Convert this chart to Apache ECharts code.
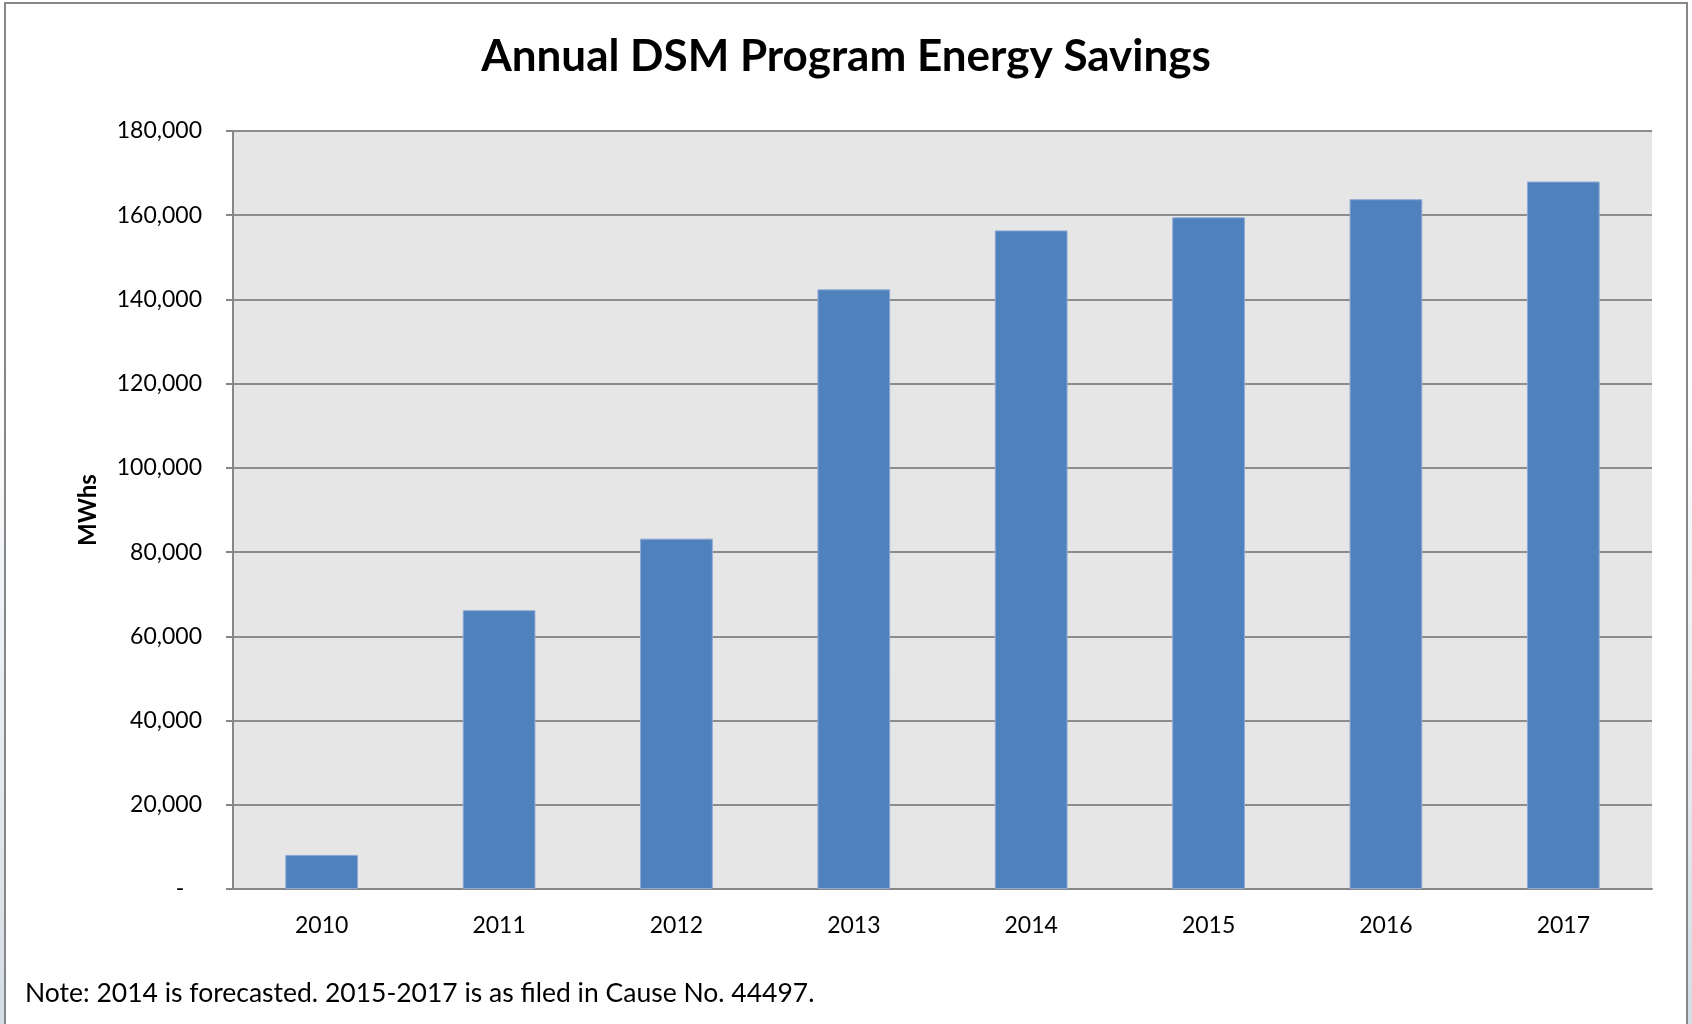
<!DOCTYPE html>
<html>
<head>
<meta charset="utf-8">
<script src="https://cdn.jsdelivr.net/npm/echarts@6/dist/echarts.min.js"></script>
<style>
  html, body { margin: 0; padding: 0; }
  body {
    width: 1692px; height: 1024px; overflow: hidden; position: relative;
    background: linear-gradient(to bottom, #ffffff 0%, #ffffff 35%, #d3dde6 100%);
  }
  #frame {
    position: absolute; left: 4px; top: 2px; width: 1680px; height: 1100px;
    border: 2px solid #878787; background: #fff;
  }
  #main { position: absolute; left: 0; top: 0; width: 1692px; height: 1024px; }
</style>
</head>
<body>
<div id="frame"></div>
<div id="main"></div>
<script>
// categories and values (MWh)
const years = ['2010', '2011', '2012', '2013', '2014', '2015', '2016', '2017'];
const savings = [8100, 66200, 83200, 142400, 156400, 159500, 163800, 168000];

const titleText = 'Annual DSM Program Energy Savings';
const noteText = 'Note: 2014 is forecasted. 2015-2017 is as filed in Cause No. 44497.';

const axisGray = '#878787';

const option = {
  backgroundColor: 'transparent',
  textStyle: { fontFamily: 'Lato' },
  title: {
    text: titleText,
    left: 'center',
    top: 30,
    textStyle: { fontFamily: 'Lato', fontWeight: 'bold', fontSize: 44, color: '#000' },
  },
  grid: {
    left: 233,
    top: 131,
    right: 40,
    bottom: 135,
    show: true,
    backgroundColor: '#e6e6e6',
    borderWidth: 0,
    outerBoundsMode: 'none',
  },
  xAxis: {
    type: 'category',
    data: years,
    axisLine: { lineStyle: { color: axisGray, width: 2 } },
    axisTick: { length: 8, lineStyle: { color: axisGray, width: 2 } },
    axisLabel: { color: '#000', fontSize: 23, margin: 25, fontFamily: 'Lato' },
  },
  yAxis: {
    type: 'value',
    min: 0,
    max: 180000,
    interval: 20000,
    name: 'MWhs',
    nameLocation: 'middle',
    nameGap: 133,
    nameTextStyle: { fontFamily: 'Lato', fontWeight: 'bold', fontSize: 24, color: '#000' },
    axisLine: { show: true, lineStyle: { color: axisGray, width: 2 } },
    axisTick: { show: true, length: 7, lineStyle: { color: axisGray, width: 2 } },
    splitLine: { lineStyle: { color: '#8c8c8c', width: 2 } },
    axisLabel: {
      color: '#000',
      fontSize: 23,
      margin: 31,
      fontFamily: 'Lato',
      formatter: v => (v === 0 ? '-   ' : v.toLocaleString('en-US')),
    },
  },
  series: [{
    type: 'bar',
    data: savings,
    barWidth: '41%',
    itemStyle: { color: '#4f81bd', borderColor: '#8eaad4', borderWidth: 1 },
  }],
  graphic: [{
    type: 'text',
    left: 25,
    top: 980,
    style: { text: noteText, fontFamily: 'Lato', fontSize: 26.5, fill: '#000' },
  }],
};

const myChart = echarts.init(document.getElementById('main'));
myChart.setOption(option);
</script>
</body>
</html>
